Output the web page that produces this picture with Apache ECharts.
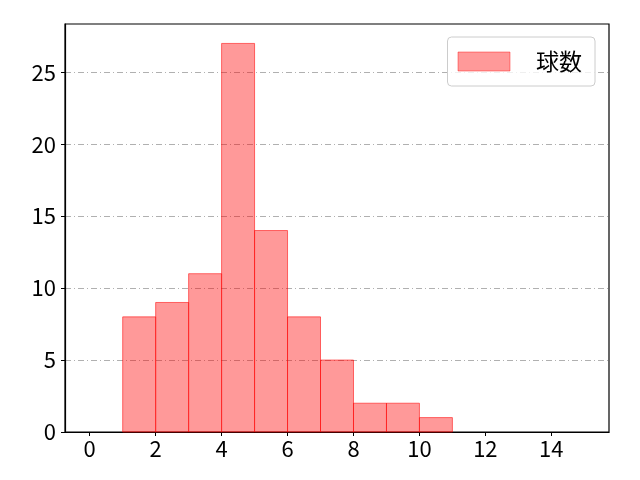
<!DOCTYPE html>
<html><head><meta charset="utf-8">
<script src="https://cdn.jsdelivr.net/npm/echarts@6/dist/echarts.min.js"></script>
<style>html,body{margin:0;padding:0;background:#fff}#c{width:640px;height:480px}</style>
</head><body><div id="c"></div>
<script>
const binStarts = [1, 2, 3, 4, 5, 6, 7, 8, 9, 10];
const binEnds = [2, 3, 4, 5, 6, 7, 8, 9, 10, 11];
const counts = [8, 9, 11, 27, 14, 8, 5, 2, 2, 1];
const xTicks = [0, 2, 4, 6, 8, 10, 12, 14];
const yTicks = [0, 5, 10, 15, 20, 25];
const seriesName = '球数';

const data = binStarts.map((s, i) => [s, binEnds[i], counts[i]]);
const font = '"Noto Sans CJK JP", "Noto Sans", sans-serif';
const chart = echarts.init(document.getElementById('c'));
chart.setOption({
  animation: false,
  grid: {left: 65, right: 31, top: 24, bottom: 48, show: true, borderColor: '#000', borderWidth: 1.2, backgroundColor: 'transparent'},
  legend: {
    right: 45, top: 37, orient: 'vertical',
    itemWidth: 52, itemHeight: 19, itemGap: 10,
    padding: [13, 13, 13, 10],
    borderColor: '#cccccc', borderWidth: 1, borderRadius: 4,
    backgroundColor: 'rgba(255,255,255,0.8)',
    textStyle: {fontFamily: font, fontSize: 23, color: '#000', padding: [0, 0, 0, 21]},
    data: [{name: seriesName, icon: 'rect', itemStyle: {color: 'rgba(255,0,0,0.4)', borderColor: 'rgba(255,0,0,0.4)', borderWidth: 1}}]
  },
  xAxis: {
    type: 'value', min: -0.75, max: 15.75,
    splitLine: {show: false},
    axisLine: {onZero: false, lineStyle: {color: '#000', width: 1.2}},
    axisTick: {show: true, length: 4, lineStyle: {color: '#000'}, customValues: xTicks},
    axisLabel: {fontFamily: font, fontSize: 22, color: '#000', margin: 6, customValues: xTicks}
  },
  yAxis: {
    type: 'value', min: 0, max: 28.35, interval: 5,
    axisLine: {show: true, onZero: false, lineStyle: {color: '#000', width: 1.2}},
    axisTick: {show: true, length: 4, lineStyle: {color: '#000'}, customValues: yTicks},
    axisLabel: {fontFamily: font, fontSize: 22, color: '#000', margin: 9, customValues: yTicks},
    splitLine: {show: true, lineStyle: {color: '#b0b0b0', width: 1, type: [6, 3, 1, 3]}}
  },
  series: [{
    name: seriesName,
    type: 'custom',
    data: data,
    encode: {x: [0, 1], y: 2},
    renderItem: function (params, api) {
      const p0 = api.coord([api.value(0), api.value(2)]);
      const p1 = api.coord([api.value(1), 0]);
      return {
        type: 'rect',
        shape: {x: p0[0], y: p0[1], width: p1[0] - p0[0], height: p1[1] - p0[1]},
        style: {fill: 'rgba(255,0,0,0.4)', stroke: 'rgba(255,0,0,0.55)', lineWidth: 1}
      };
    }
  }]
});
</script></body></html>
